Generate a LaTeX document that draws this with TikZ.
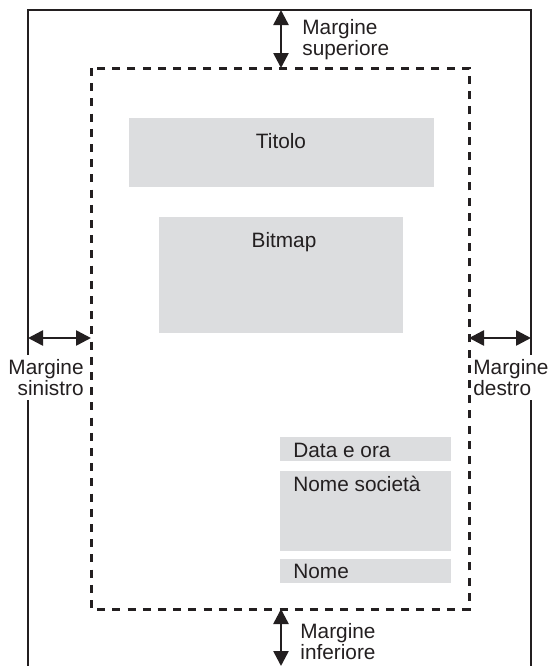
\documentclass[tikz,border=0pt]{standalone}
\usepackage{fontspec}
\setmainfont{Liberation Sans}
\usetikzlibrary{arrows.meta}
\definecolor{boxgray}{HTML}{DCDDDF}
\definecolor{ink}{HTML}{231F20}

\begin{document}
\begin{tikzpicture}[x=0.5pt,y=-0.5pt]
  \tikzstyle{every node}=[text=ink,inner sep=0pt,
                          font=\fontsize{10.4}{10.6}\selectfont]
  \tikzstyle{margin}=[ink,line width=1.3pt,
      {Triangle[width=7.5pt,length=7.5pt]}-{Triangle[width=7.5pt,length=7.5pt]}]
  \tikzstyle{field}=[fill=boxgray]
  \tikzstyle{sidelabel}=[fill=white,inner ysep=2pt]
  \useasboundingbox (0,0) rectangle (549,666);

  % page edge, open at the bottom
  \draw[ink,line width=1.35pt] (28,666) -- (28,10) -- (531,10) -- (531,666);
  % printable area
  \draw[ink,line width=1.5pt,dash pattern=on 4pt off 3.6pt]
      (91,68) rectangle (469,609);

  % fields
  \fill[field] (129,118) rectangle (434,187);
  \fill[field] (159,217) rectangle (403,333);
  \fill[field] (280,437) rectangle (451,461);
  \fill[field] (280,471) rectangle (451,551);
  \fill[field] (280,559) rectangle (451,583);
  \node (titolo)  [anchor=base]      at (281,148) {Titolo};
  \node (bitmap)  [anchor=base]      at (284,247) {Bitmap};
  \node (data)    [anchor=base west] at (293,457) {Data e ora};
  \node (societa) [anchor=base west] at (293,491) {Nome società};
  \node (nome)    [anchor=base west] at (293,578) {Nome};

  % margins
  \coordinate (sup1) at (281,10);  \coordinate (sup2) at (281,68);
  \coordinate (sin1) at (28,338);  \coordinate (sin2) at (91,338);
  \coordinate (des1) at (469,338); \coordinate (des2) at (531,338);
  \coordinate (inf1) at (281,609); \coordinate (inf2) at (281,666);
  \draw[margin] (sup1) -- (sup2);
  \draw[margin] (sin1) -- (sin2);
  \draw[margin] (des1) -- (des2);
  \draw[margin] (inf1) -- (inf2);
  \node (superiore) [anchor=north west,align=left]  at (302,19)
      {Margine\\superiore};
  \node (sinistro)  [sidelabel,anchor=north east,align=right] at (84,355)
      {Margine\\sinistro};
  \node (destro)    [sidelabel,anchor=north west,align=left]  at (473,355)
      {Margine\\destro};
  \node (inferiore) [anchor=north west,align=left]  at (300,623)
      {Margine\\inferiore};
\end{tikzpicture}
\end{document}
